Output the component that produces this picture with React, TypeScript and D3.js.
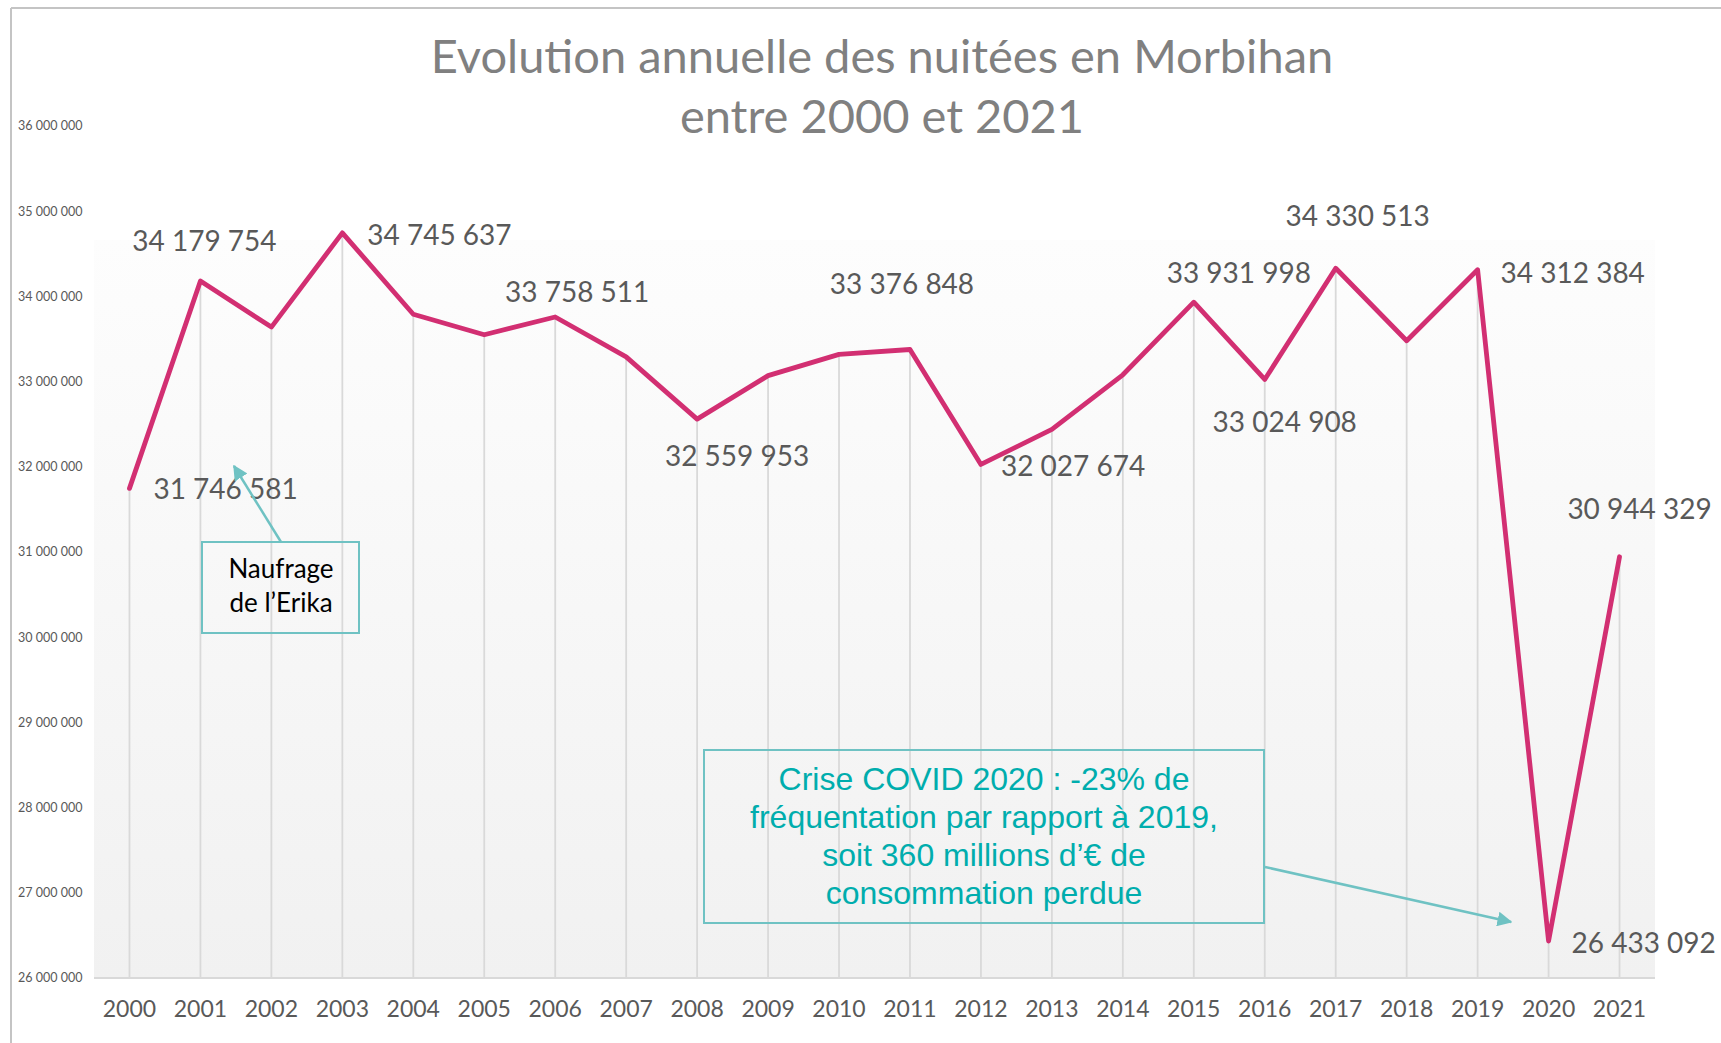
import React from 'react';
import * as d3 from 'd3';

const years = ['2000','2001','2002','2003','2004','2005','2006','2007','2008','2009','2010','2011','2012','2013','2014','2015','2016','2017','2018','2019','2020','2021'];
const nuitees = [31746581, 34179754, 33640000, 34745637, 33790000, 33550000, 33758511, 33290000, 32559953, 33070000, 33320000, 33376848, 32027674, 32440000, 33080000, 33931998, 33024908, 34330513, 33480000, 34312384, 26433092, 30944329];
const labelledYears = ['2000','2001','2003','2006','2008','2011','2012','2015','2016','2017','2019','2020','2021'];
const titleLines = ['Evolution annuelle des nuitées en Morbihan', 'entre 2000 et 2021'];
const erikaLines = ['Naufrage', 'de l\u2019Erika'];
const covidLines = ['Crise COVID 2020 : -23% de', 'fréquentation par rapport à 2019,', 'soit 360 millions d\u2019€ de', 'consommation perdue'];
const yDomain = [26000000, 36000000];

// label layout (offset of label from its point; anchor)
const labelLayout: Record<string, { dx: number; dy: number; anchor: string }> = {
  '2000': { dx: 24, dy: 1, anchor: 'start' },
  '2001': { dx: 4, dy: -40, anchor: 'middle' },
  '2003': { dx: 25, dy: 2, anchor: 'start' },
  '2006': { dx: 22, dy: -25, anchor: 'middle' },
  '2008': { dx: 40, dy: 37, anchor: 'middle' },
  '2011': { dx: -8, dy: -65, anchor: 'middle' },
  '2012': { dx: 20, dy: 2, anchor: 'start' },
  '2015': { dx: 45, dy: -29, anchor: 'middle' },
  '2016': { dx: 20, dy: 43, anchor: 'middle' },
  '2017': { dx: 22, dy: -52, anchor: 'middle' },
  '2019': { dx: 23, dy: 3, anchor: 'start' },
  '2020': { dx: 23, dy: 2, anchor: 'start' },
  '2021': { dx: 20, dy: -48, anchor: 'middle' },
};

const W = 1721, H = 1043;
const plot = { left: 94, right: 1655, top: 240, bottom: 978, axisTop: 126 };

const fmt = (v: number) => d3.format(',')(v).replace(/,/g, ' ');

export default function App() {
  const x = d3.scaleBand<string>().domain(years).range([plot.left, plot.right]).paddingInner(0).paddingOuter(0);
  const cx = (yr: string) => (x(yr) as number) + x.bandwidth() / 2;
  const y = d3.scaleLinear().domain(yDomain).range([plot.bottom, plot.axisTop]);
  const ticks = y.ticks(10);
  const pts = years.map((yr, i) => [cx(yr), y(nuitees[i])] as [number, number]);
  const line = d3.line()(pts) as string;
  const teal = '#6fc2c3';
  const lato = 'Lato, "Open Sans", sans-serif';

  return (
    <svg width={W} height={H} style={{ position: 'absolute', left: 0, top: 0, background: '#fff' }}>
      <defs>
        <linearGradient id="bg" x1="0" y1="0" x2="0" y2="1">
          <stop offset="0" stopColor="#fdfdfd" />
          <stop offset="1" stopColor="#f1f1f1" />
        </linearGradient>
        <marker id="arrow" viewBox="0 0 10 10" refX="9" refY="5" markerWidth="6" markerHeight="6" orient="auto" markerUnits="strokeWidth">
          <path d="M0,0 L10,5 L0,10 z" fill={teal} />
        </marker>
      </defs>
      <rect x={0} y={0} width={W} height={H} fill="#fff" />
      <line x1={11} y1={8} x2={W} y2={8} stroke="#c4c4c4" strokeWidth={2} />
      <line x1={11} y1={8} x2={11} y2={H} stroke="#c4c4c4" strokeWidth={2} />
      <rect x={plot.left} y={plot.top} width={plot.right - plot.left} height={plot.bottom - plot.top} fill="url(#bg)" />

      {titleLines.map((t, i) => (
        <text key={t} x={882} y={73 + i * 60} textAnchor="middle" fontFamily={lato} fontSize={47} fill="#808080">{t}</text>
      ))}

      {ticks.map(t => (
        <text key={t} x={18} y={y(t)} dy="0.35em" fontFamily={lato} fontSize={12.5} fill="#595959">{fmt(t)}</text>
      ))}

      {years.map((yr, i) => (
        <line key={yr} x1={cx(yr)} x2={cx(yr)} y1={y(nuitees[i])} y2={plot.bottom} stroke="#d9d9d9" strokeWidth={1.8} />
      ))}
      <line x1={plot.left} x2={plot.right} y1={plot.bottom} y2={plot.bottom} stroke="#d9d9d9" strokeWidth={2} />

      {years.map(yr => (
        <text key={yr} x={cx(yr)} y={1017} textAnchor="middle" fontFamily={lato} fontSize={23} fill="#595959">{yr}</text>
      ))}

      <path d={line} fill="none" stroke="#d22f72" strokeWidth={4.8} strokeLinejoin="round" strokeLinecap="round" />

      {labelledYears.map(yr => {
        const i = years.indexOf(yr);
        const l = labelLayout[yr];
        return (
          <text key={yr} x={cx(yr) + l.dx} y={y(nuitees[i]) + l.dy} dy="0.35em" textAnchor={l.anchor} fontFamily={lato} fontSize={28} fill="#595959">{fmt(nuitees[i])}</text>
        );
      })}

      <rect x={202} y={542} width={157} height={91} fill="none" stroke={teal} strokeWidth={2} />
      {erikaLines.map((t, i) => (
        <text key={t} x={281} y={578 + i * 33.5} textAnchor="middle" fontFamily={lato} fontSize={26} fill="#000">{t}</text>
      ))}
      <line x1={281} y1={542} x2={234} y2={466} stroke={teal} strokeWidth={2.5} markerEnd="url(#arrow)" />

      <rect x={704} y={750} width={560} height={173} fill="none" stroke={teal} strokeWidth={2} />
      {covidLines.map((t, i) => (
        <text key={t} x={984} y={790 + i * 38} textAnchor="middle" fontFamily='"Liberation Sans", Arial, sans-serif' fontSize={32} fill="#00adad">{t}</text>
      ))}
      <line x1={1265} y1={867} x2={1511} y2={922} stroke={teal} strokeWidth={2.5} markerEnd="url(#arrow)" />
    </svg>
  );
}
